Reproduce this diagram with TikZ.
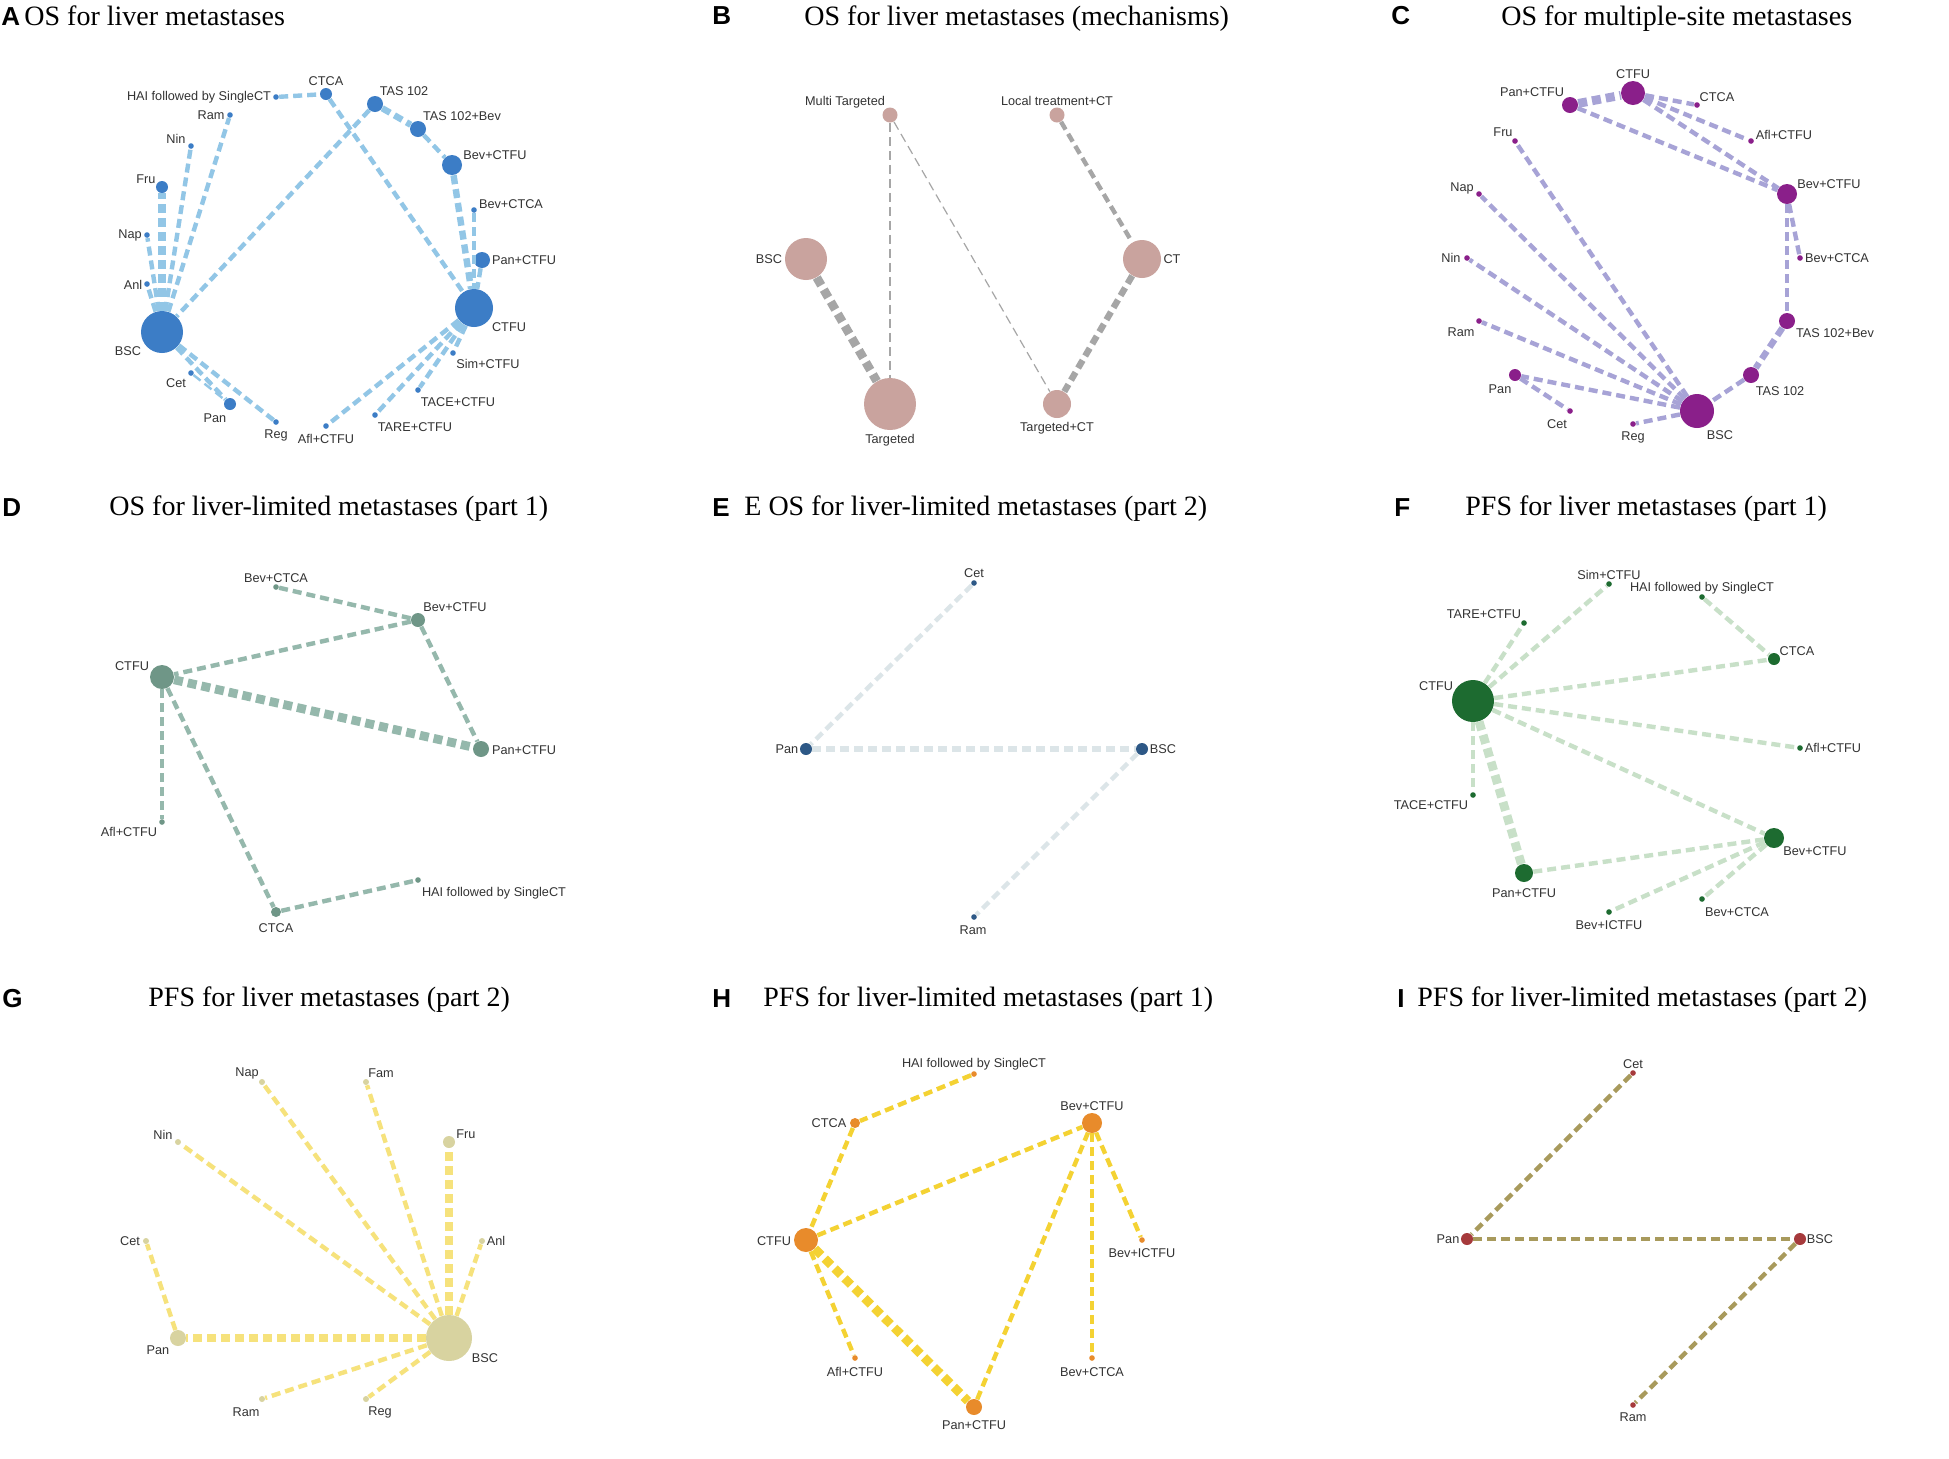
\documentclass[tikz,border=0pt]{standalone}
\usepackage{fontspec}
\setmainfont{Liberation Serif}
\newfontfamily\labfont{Liberation Sans}
\definecolor{labc}{HTML}{333333}
\definecolor{cAn}{HTML}{3C7DC6}\definecolor{cAe}{HTML}{92C6E6}
\definecolor{cBn}{HTML}{C9A39E}\definecolor{cBe}{HTML}{A6A6A6}
\definecolor{cCn}{HTML}{8A1F8A}\definecolor{cCe}{HTML}{A7A3D6}
\definecolor{cDn}{HTML}{6F9687}\definecolor{cDe}{HTML}{95B8AC}
\definecolor{cEn}{HTML}{2D5886}\definecolor{cEe}{HTML}{DCE5E8}
\definecolor{cFn}{HTML}{1D6B30}\definecolor{cFe}{HTML}{C8E0C8}
\definecolor{cGn}{HTML}{D8D3A0}\definecolor{cGe}{HTML}{F6E27C}
\definecolor{cHn}{HTML}{E88B2B}\definecolor{cHe}{HTML}{F4D233}
\definecolor{cIn}{HTML}{A63A3C}\definecolor{cIe}{HTML}{A89A5C}
\tikzset{
  nd/.style={circle, inner sep=0pt, minimum size=#1pt, draw=none},
  nA/.style={nd=#1, fill=cAn}, nB/.style={nd=#1, fill=cBn}, nC/.style={nd=#1, fill=cCn},
  nD/.style={nd=#1, fill=cDn}, nE/.style={nd=#1, fill=cEn}, nF/.style={nd=#1, fill=cFn},
  nG/.style={nd=#1, fill=cGn}, nH/.style={nd=#1, fill=cHn}, nI/.style={nd=#1, fill=cIn},
  ed/.style={dash pattern=on 4.5pt off 2.5pt},
  eA/.style={ed, draw=cAe}, eB/.style={ed, draw=cBe}, eC/.style={ed, draw=cCe},
  eD/.style={ed, draw=cDe}, eE/.style={ed, draw=cEe}, eF/.style={ed, draw=cFe},
  eG/.style={ed, draw=cGe}, eH/.style={ed, draw=cHe}, eI/.style={ed, draw=cIe},
  w1/.style={line width=0.6pt}, w2/.style={line width=1.2pt}, w3/.style={line width=2.2pt},
  w4/.style={line width=3.2pt}, w5/.style={line width=4.4pt},
  lab/.style={font=\labfont\fontsize{6.35}{7}\selectfont, text=labc, inner sep=0pt},
  ttl/.style={font=\fontsize{14}{16}\selectfont, anchor=base west, inner sep=0pt},
  plet/.style={font=\labfont\bfseries\fontsize{13}{15}\selectfont, anchor=base west, inner sep=0pt}
}
\begin{document}
\begin{tikzpicture}[x=0.5pt,y=-0.5pt]
\useasboundingbox (0,0) rectangle (1949,1458);
\fill[white] (0,0) rectangle (1949,1458);

% ================= Panel A =================
\node[plet] (Alet) at (1,25) {A};
\node[ttl] (Attl) at (24,25) {OS for liver metastases};
\node[nA=2.8] (aHAI) at (276,97) {};
\node[nA=6] (aCTCA) at (326,94) {};
\node[nA=8] (aTAS) at (375,104) {};
\node[nA=8] (aTASB) at (418,129) {};
\node[nA=10] (aBevCTFU) at (452,165) {};
\node[nA=2.8] (aBevCTCA) at (474,210) {};
\node[nA=8] (aPanCTFU) at (482,260) {};
\node[nA=19] (aCTFU) at (474,308) {};
\node[nA=2.8] (aSim) at (453,353) {};
\node[nA=2.8] (aTACE) at (418,390) {};
\node[nA=2.8] (aTARE) at (375,415) {};
\node[nA=2.8] (aAfl) at (326,426) {};
\node[nA=2.8] (aReg) at (276,422) {};
\node[nA=6] (aPan) at (230,404) {};
\node[nA=2.8] (aCet) at (191,373) {};
\node[nA=21] (aBSC) at (162,332) {};
\node[nA=2.8] (aAnl) at (147,284) {};
\node[nA=2.8] (aNap) at (147,235) {};
\node[nA=6] (aFru) at (162,187) {};
\node[nA=2.8] (aNin) at (191,146) {};
\node[nA=2.8] (aRam) at (230,115) {};
\draw[eA,w3] (aHAI) -- (aCTCA);
\draw[eA,w3] (aCTCA) -- (aCTFU);
\draw[eA,w3] (aTAS) -- (aBSC);
\draw[eA,w4] (aTAS) -- (aTASB);
\draw[eA,w3] (aTASB) -- (aBevCTFU);
\draw[eA,w4] (aBevCTFU) -- (aCTFU);
\draw[eA,w3] (aBevCTCA) -- (aCTFU);
\draw[eA,w3] (aPanCTFU) -- (aCTFU);
\draw[eA,w3] (aCTFU) -- (aSim);
\draw[eA,w3] (aCTFU) -- (aTACE);
\draw[eA,w3] (aCTFU) -- (aTARE);
\draw[eA,w3] (aCTFU) -- (aAfl);
\draw[eA,w3] (aBSC) -- (aPan);
\draw[eA,w3] (aBSC) -- (aReg);
\draw[eA,w2] (aCet) -- (aPan);
\draw[eA,w3] (aBSC) -- (aAnl);
\draw[eA,w3] (aBSC) -- (aNap);
\draw[eA,w5] (aBSC) -- (aFru);
\draw[eA,w3] (aBSC) -- (aNin);
\draw[eA,w3] (aBSC) -- (aRam);
\node[lab] (aCTCAl) at (326,81) {CTCA};
\node[lab] (aHAIl) at (199,97) {HAI followed by SingleCT};
\node[lab] (aTASl) at (404,91) {TAS 102};
\node[lab] (aRaml) at (211,115) {Ram};
\node[lab] (aTASBl) at (462,116) {TAS 102+Bev};
\node[lab] (aNinl) at (176,139) {Nin};
\node[lab] (aBevCTFUl) at (495,155) {Bev+CTFU};
\node[lab] (aFrul) at (146,179) {Fru};
\node[lab] (aBevCTCAl) at (511,204) {Bev+CTCA};
\node[lab] (aNapl) at (130,235) {Nap};
\node[lab] (aPanCTFUl) at (524,260) {Pan+CTFU};
\node[lab] (aAnll) at (133,285) {Anl};
\node[lab] (aCTFUl) at (509,327) {CTFU};
\node[lab] (aBSCl) at (128,351) {BSC};
\node[lab] (aSiml) at (488,364) {Sim+CTFU};
\node[lab] (aCetl) at (176,383) {Cet};
\node[lab] (aTACEl) at (458,402) {TACE+CTFU};
\node[lab] (aPanl) at (215,418) {Pan};
\node[lab] (aTAREl) at (415,427) {TARE+CTFU};
\node[lab] (aRegl) at (276,435) {Reg};
\node[lab] (aAfll) at (326,439) {Afl+CTFU};

% ================= Panel B =================
\node[plet] (Blet) at (712,24) {B};
\node[ttl] (Bttl) at (804,25) {OS for liver metastases (mechanisms)};
\node[nB=7.5] (bMulti) at (890,115) {};
\node[nB=7.5] (bLocal) at (1057,115) {};
\node[nB=21] (bBSC) at (806,259) {};
\node[nB=19] (bCT) at (1142,259) {};
\node[nB=26] (bTarg) at (890,404) {};
\node[nB=14] (bTargCT) at (1057,404) {};
\draw[eB,w2] (bMulti) -- (bTarg);
\draw[eB,w1] (bMulti) -- (bTargCT);
\draw[eB,w3] (bLocal) -- (bCT);
\draw[eB,w5] (bBSC) -- (bTarg);
\draw[eB,w4] (bCT) -- (bTargCT);
\node[lab] (bMultil) at (845,102) {Multi Targeted};
\node[lab] (bLocall) at (1057,101) {Local treatment+CT};
\node[lab] (bBSCl) at (769,259) {BSC};
\node[lab] (bCTl) at (1172,259) {CT};
\node[lab] (bTargl) at (890,440) {Targeted};
\node[lab] (bTargCTl) at (1057,428) {Targeted+CT};

% ================= Panel C =================
\node[plet] (Clet) at (1391,24) {C};
\node[ttl] (Cttl) at (1501,25) {OS for multiple-site metastases};
\node[nC=12] (cCTFU) at (1633,93) {};
\node[nC=8] (cPanCTFU) at (1570,105) {};
\node[nC=2.8] (cCTCA) at (1697,105) {};
\node[nC=2.8] (cAfl) at (1751,141) {};
\node[nC=2.8] (cFru) at (1515,141) {};
\node[nC=10] (cBevCTFU) at (1787,194) {};
\node[nC=2.8] (cNap) at (1479,194) {};
\node[nC=2.8] (cBevCTCA) at (1800,258) {};
\node[nC=2.8] (cNin) at (1467,258) {};
\node[nC=8] (cTASB) at (1787,321) {};
\node[nC=2.8] (cRam) at (1479,321) {};
\node[nC=8] (cTAS) at (1751,375) {};
\node[nC=6] (cPan) at (1515,375) {};
\node[nC=17] (cBSC) at (1697,411) {};
\node[nC=2.8] (cCet) at (1570,411) {};
\node[nC=2.8] (cReg) at (1633,424) {};
\draw[eC,w5] (cPanCTFU) -- (cCTFU);
\draw[eC,w3] (cPanCTFU) -- (cBevCTFU);
\draw[eC,w3] (cCTFU) -- (cCTCA);
\draw[eC,w3] (cCTFU) -- (cAfl);
\draw[eC,w3] (cCTFU) -- (cBevCTFU);
\draw[eC,w3] (cBevCTFU) -- (cTASB);
\draw[eC,w3] (cBevCTFU) -- (cBevCTCA);
\draw[eC,w4] (cTASB) -- (cTAS);
\draw[eC,w3] (cTAS) -- (cBSC);
\draw[eC,w3] (cBSC) -- (cFru);
\draw[eC,w3] (cBSC) -- (cNap);
\draw[eC,w3] (cBSC) -- (cNin);
\draw[eC,w3] (cBSC) -- (cRam);
\draw[eC,w3] (cBSC) -- (cPan);
\draw[eC,w3] (cBSC) -- (cReg);
\draw[eC,w3] (cPan) -- (cCet);
\node[lab] (cCTFUl) at (1633,74) {CTFU};
\node[lab] (cPanCTFUl) at (1532,92) {Pan+CTFU};
\node[lab] (cCTCAl) at (1717,97) {CTCA};
\node[lab] (cAfll) at (1784,135) {Afl+CTFU};
\node[lab] (cFrul) at (1503,132) {Fru};
\node[lab] (cBevCTFUl) at (1829,184) {Bev+CTFU};
\node[lab] (cNapl) at (1462,188) {Nap};
\node[lab] (cBevCTCAl) at (1837,258) {Bev+CTCA};
\node[lab] (cNinl) at (1451,258) {Nin};
\node[lab] (cTASBl) at (1835,333) {TAS 102+Bev};
\node[lab] (cRaml) at (1461,332) {Ram};
\node[lab] (cTASl) at (1780,391) {TAS 102};
\node[lab] (cPanl) at (1500,389) {Pan};
\node[lab] (cBSCl) at (1720,435) {BSC};
\node[lab] (cCetl) at (1557,424) {Cet};
\node[lab] (cRegl) at (1633,437) {Reg};

% ================= Panel D =================
\node[plet] (Dlet) at (2,516) {D};
\node[ttl] (Dttl) at (109,515) {OS for liver-limited metastases (part 1)};
\node[nD=2.8] (dBevCTCA) at (276,587) {};
\node[nD=7] (dBevCTFU) at (418,620) {};
\node[nD=12] (dCTFU) at (162,677) {};
\node[nD=8] (dPanCTFU) at (481,749) {};
\node[nD=2.8] (dAfl) at (162,822) {};
\node[nD=5] (dCTCA) at (276,912) {};
\node[nD=2.8] (dHAI) at (418,880) {};
\draw[eD,w3] (dBevCTCA) -- (dBevCTFU);
\draw[eD,w3] (dBevCTFU) -- (dCTFU);
\draw[eD,w3] (dBevCTFU) -- (dPanCTFU);
\draw[eD,w5] (dCTFU) -- (dPanCTFU);
\draw[eD,w3] (dCTFU) -- (dAfl);
\draw[eD,w3] (dCTFU) -- (dCTCA);
\draw[eD,w3] (dCTCA) -- (dHAI);
\node[lab] (dBevCTCAl) at (276,578) {Bev+CTCA};
\node[lab] (dBevCTFUl) at (455,607) {Bev+CTFU};
\node[lab] (dCTFUl) at (132,666) {CTFU};
\node[lab] (dPanCTFUl) at (524,750) {Pan+CTFU};
\node[lab] (dAfll) at (129,832) {Afl+CTFU};
\node[lab] (dCTCAl) at (276,928) {CTCA};
\node[lab] (dHAIl) at (494,893) {HAI followed by SingleCT};

% ================= Panel E =================
\node[plet] (Elet) at (712,516) {E};
\node[ttl] (Ettl) at (744,515) {E OS for liver-limited metastases (part 2)};
\node[nE=2.8] (eCet) at (974,583) {};
\node[nE=6] (ePan) at (806,749) {};
\node[nE=6] (eBSC) at (1142,749) {};
\node[nE=2.8] (eRam) at (974,917) {};
\draw[eE,w3] (eCet) -- (ePan);
\draw[eE,w4] (ePan) -- (eBSC);
\draw[eE,w3] (eBSC) -- (eRam);
\node[lab] (eCetl) at (974,573) {Cet};
\node[lab] (ePanl) at (787,749) {Pan};
\node[lab] (eBSCl) at (1163,749) {BSC};
\node[lab] (eRaml) at (973,930) {Ram};

% ================= Panel F =================
\node[plet] (Flet) at (1394,516) {F};
\node[ttl] (Fttl) at (1465,515) {PFS for liver metastases (part 1)};
\node[nF=2.8] (fSim) at (1609,584) {};
\node[nF=2.8] (fHAI) at (1702,597) {};
\node[nF=2.8] (fTARE) at (1524,623) {};
\node[nF=6] (fCTCA) at (1774,659) {};
\node[nF=21] (fCTFU) at (1473,701) {};
\node[nF=2.8] (fAfl) at (1800,748) {};
\node[nF=2.8] (fTACE) at (1473,795) {};
\node[nF=10] (fBevCTFU) at (1774,838) {};
\node[nF=9] (fPanCTFU) at (1524,873) {};
\node[nF=2.8] (fBevCTCA) at (1702,899) {};
\node[nF=2.8] (fBevICTFU) at (1609,912) {};
\draw[eF,w3] (fCTFU) -- (fTARE);
\draw[eF,w3] (fCTFU) -- (fSim);
\draw[eF,w3] (fCTFU) -- (fCTCA);
\draw[eF,w3] (fCTFU) -- (fAfl);
\draw[eF,w3] (fCTFU) -- (fBevCTFU);
\draw[eF,w3] (fCTFU) -- (fTACE);
\draw[eF,w5] (fCTFU) -- (fPanCTFU);
\draw[eF,w3] (fHAI) -- (fCTCA);
\draw[eF,w3] (fPanCTFU) -- (fBevCTFU);
\draw[eF,w3] (fBevCTFU) -- (fBevICTFU);
\draw[eF,w3] (fBevCTFU) -- (fBevCTCA);
\node[lab] (fSiml) at (1609,575) {Sim+CTFU};
\node[lab] (fHAIl) at (1702,588) {HAI followed by SingleCT};
\node[lab] (fTAREl) at (1484,614) {TARE+CTFU};
\node[lab] (fCTCAl) at (1797,651) {CTCA};
\node[lab] (fCTFUl) at (1436,686) {CTFU};
\node[lab] (fAfll) at (1833,748) {Afl+CTFU};
\node[lab] (fTACEl) at (1431,805) {TACE+CTFU};
\node[lab] (fBevCTFUl) at (1815,851) {Bev+CTFU};
\node[lab] (fPanCTFUl) at (1524,893) {Pan+CTFU};
\node[lab] (fBevCTCAl) at (1737,912) {Bev+CTCA};
\node[lab] (fBevICTFUl) at (1609,925) {Bev+ICTFU};

% ================= Panel G =================
\node[plet] (Glet) at (2,1007) {G};
\node[ttl] (Gttl) at (148,1006) {PFS for liver metastases (part 2)};
\node[nG=3] (gNap) at (262,1082) {};
\node[nG=3] (gFam) at (366,1082) {};
\node[nG=3] (gNin) at (178,1142) {};
\node[nG=6] (gFru) at (449,1142) {};
\node[nG=3] (gCet) at (146,1241) {};
\node[nG=3] (gAnl) at (482,1241) {};
\node[nG=8] (gPan) at (178,1338) {};
\node[nG=23] (gBSC) at (449,1338) {};
\node[nG=3] (gRam) at (262,1399) {};
\node[nG=3] (gReg) at (366,1399) {};
\draw[eG,w3] (gBSC) -- (gNap);
\draw[eG,w3] (gBSC) -- (gFam);
\draw[eG,w3] (gBSC) -- (gNin);
\draw[eG,w5] (gBSC) -- (gFru);
\draw[eG,w3] (gBSC) -- (gAnl);
\draw[eG,w5] (gBSC) -- (gPan);
\draw[eG,w3] (gBSC) -- (gRam);
\draw[eG,w3] (gBSC) -- (gReg);
\draw[eG,w3] (gPan) -- (gCet);
\node[lab] (gNapl) at (247,1073) {Nap};
\node[lab] (gFaml) at (381,1073) {Fam};
\node[lab] (gNinl) at (163,1135) {Nin};
\node[lab] (gFrul) at (466,1134) {Fru};
\node[lab] (gCetl) at (130,1241) {Cet};
\node[lab] (gAnll) at (496,1241) {Anl};
\node[lab] (gPanl) at (158,1350) {Pan};
\node[lab] (gBSCl) at (485,1358) {BSC};
\node[lab] (gRaml) at (246,1412) {Ram};
\node[lab] (gRegl) at (380,1412) {Reg};

% ================= Panel H =================
\node[plet] (Hlet) at (712,1007) {H};
\node[ttl] (Httl) at (763,1006) {PFS for liver-limited metastases (part 1)};
\node[nH=2.8] (hHAI) at (974,1074) {};
\node[nH=5] (hCTCA) at (855,1123) {};
\node[nH=10] (hBevCTFU) at (1092,1123) {};
\node[nH=12] (hCTFU) at (806,1240) {};
\node[nH=2.8] (hBevICTFU) at (1142,1240) {};
\node[nH=2.8] (hAfl) at (855,1358) {};
\node[nH=2.8] (hBevCTCA) at (1092,1358) {};
\node[nH=8] (hPanCTFU) at (974,1407) {};
\draw[eH,w3] (hHAI) -- (hCTCA);
\draw[eH,w3] (hCTCA) -- (hCTFU);
\draw[eH,w3] (hCTFU) -- (hBevCTFU);
\draw[eH,w3] (hCTFU) -- (hAfl);
\draw[eH,w5] (hCTFU) -- (hPanCTFU);
\draw[eH,w3] (hPanCTFU) -- (hBevCTFU);
\draw[eH,w3] (hBevCTFU) -- (hBevCTCA);
\draw[eH,w3] (hBevCTFU) -- (hBevICTFU);
\node[lab] (hHAIl) at (974,1064) {HAI followed by SingleCT};
\node[lab] (hCTCAl) at (829,1123) {CTCA};
\node[lab] (hBevCTFUl) at (1092,1106) {Bev+CTFU};
\node[lab] (hCTFUl) at (774,1241) {CTFU};
\node[lab] (hBevICTFUl) at (1142,1253) {Bev+ICTFU};
\node[lab] (hAfll) at (855,1372) {Afl+CTFU};
\node[lab] (hBevCTCAl) at (1092,1372) {Bev+CTCA};
\node[lab] (hPanCTFUl) at (974,1425) {Pan+CTFU};

% ================= Panel I =================
\node[plet] (Ilet) at (1397,1007) {I};
\node[ttl] (Ittl) at (1417,1006) {PFS for liver-limited metastases (part 2)};
\node[nI=2.8] (iCet) at (1633,1073) {};
\node[nI=6] (iPan) at (1467,1239) {};
\node[nI=6] (iBSC) at (1800,1239) {};
\node[nI=2.8] (iRam) at (1633,1405) {};
\draw[eI,w3] (iCet) -- (iPan);
\draw[eI,w3] (iPan) -- (iBSC);
\draw[eI,w3] (iBSC) -- (iRam);
\node[lab] (iCetl) at (1633,1064) {Cet};
\node[lab] (iPanl) at (1448,1239) {Pan};
\node[lab] (iBSCl) at (1820,1239) {BSC};
\node[lab] (iRaml) at (1633,1417) {Ram};
\end{tikzpicture}
\end{document}
